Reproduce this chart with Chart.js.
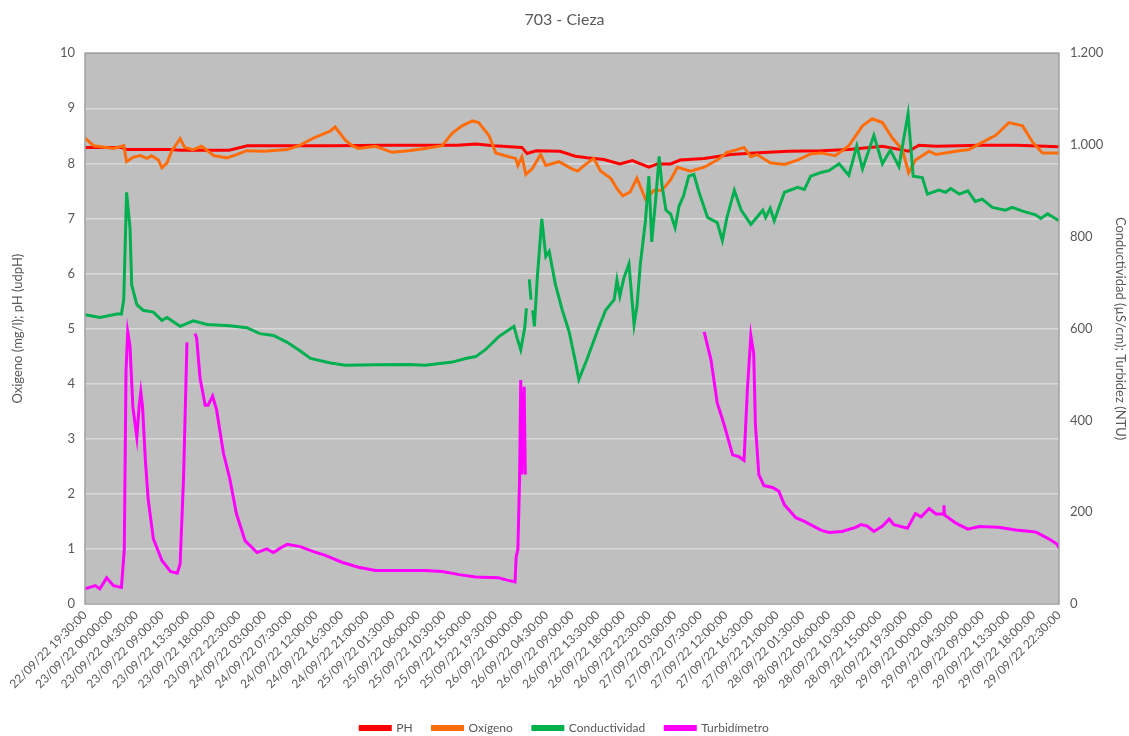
<!DOCTYPE html>
<html><head><meta charset="utf-8">
<script src="https://cdn.jsdelivr.net/npm/chart.js@4.4.0/dist/chart.umd.min.js"></script>
<style>html,body{margin:0;padding:0;background:#fff}</style>
</head><body>
<canvas id="c" width="1129" height="736"></canvas>
<script>
const chartTitle = '703 - Cieza';
const seriesNames = ['PH', 'Oxígeno', 'Conductividad', 'Turbidímetro'];
// hours since 22/09/22 19:30:00, every tick 4.5 h
const tickHours = [0,4.5,9,13.5,18,22.5,27,31.5,36,40.5,45,49.5,54,58.5,63,67.5,72,76.5,81,85.5,90,94.5,99,103.5,108,112.5,117,121.5,126,130.5,135,139.5,144,148.5,153,157.5,162,166.5,171];
const tickLabels = [
'22/09/22 19:30:00','23/09/22 00:00:00','23/09/22 04:30:00','23/09/22 09:00:00','23/09/22 13:30:00','23/09/22 18:00:00','23/09/22 22:30:00',
'24/09/22 03:00:00','24/09/22 07:30:00','24/09/22 12:00:00','24/09/22 16:30:00','24/09/22 21:00:00',
'25/09/22 01:30:00','25/09/22 06:00:00','25/09/22 10:30:00','25/09/22 15:00:00','25/09/22 19:30:00',
'26/09/22 00:00:00','26/09/22 04:30:00','26/09/22 09:00:00','26/09/22 13:30:00','26/09/22 18:00:00','26/09/22 22:30:00',
'27/09/22 03:00:00','27/09/22 07:30:00','27/09/22 12:00:00','27/09/22 16:30:00','27/09/22 21:00:00',
'28/09/22 01:30:00','28/09/22 06:00:00','28/09/22 10:30:00','28/09/22 15:00:00','28/09/22 19:30:00',
'29/09/22 00:00:00','29/09/22 04:30:00','29/09/22 09:00:00','29/09/22 13:30:00','29/09/22 18:00:00','29/09/22 22:30:00'];
const leftTicks = [0,1,2,3,4,5,6,7,8,9,10];
const rightTicks = [0,200,400,600,800,1000,1200];

// [hours, pH]
const phData = [[0,8.29],[6.3,8.29],[7.4,8.25],[14.8,8.25],[16.9,8.24],[25.3,8.24],[28.5,8.32],[43.3,8.32],[52.8,8.33],[65.4,8.33],[68.6,8.35],[71.8,8.32],[76.7,8.29],[77.6,8.18],[79.2,8.23],[83.4,8.22],[86.1,8.13],[88.1,8.10],[91.1,8.07],[93.9,7.99],[96.1,8.05],[99.0,7.93],[100.5,7.99],[102.8,7.99],[104.5,8.06],[108.7,8.09],[113.4,8.16],[117.5,8.19],[123.5,8.22],[129.2,8.23],[134.1,8.25],[140.0,8.31],[144.6,8.22],[146.4,8.33],[149.4,8.31],[157.3,8.33],[163.6,8.33],[171,8.30]];
// [hours, mg/l]
const oxigenoData = [[0,8.46],[1.5,8.32],[5.0,8.27],[6.8,8.32],[7.3,8.03],[8.4,8.11],[9.7,8.14],[10.9,8.09],[11.7,8.14],[12.9,8.06],[13.5,7.92],[14.4,8.01],[15.2,8.22],[16.7,8.45],[17.5,8.29],[19.0,8.25],[20.5,8.31],[22.6,8.14],[24.9,8.10],[26.6,8.16],[28.4,8.23],[31.4,8.22],[35.5,8.25],[37.8,8.33],[40.1,8.46],[43.1,8.59],[43.9,8.66],[45.7,8.42],[46.9,8.32],[48.0,8.27],[51.0,8.31],[53.9,8.20],[56.8,8.23],[59.7,8.27],[62.7,8.32],[64.5,8.55],[66.2,8.68],[68.0,8.77],[69.1,8.74],[70.9,8.51],[72.1,8.19],[74.4,8.12],[75.6,8.09],[76.0,7.96],[76.7,8.12],[77.4,7.80],[78.5,7.90],[80.0,8.16],[80.9,7.96],[83.2,8.03],[85.5,7.90],[86.5,7.86],[87.6,7.96],[89.3,8.09],[90.5,7.86],[92.3,7.73],[93.4,7.54],[94.4,7.41],[95.7,7.48],[96.9,7.73],[98.4,7.35],[99.9,7.51],[101.3,7.51],[102.8,7.70],[104.0,7.93],[106.3,7.86],[108.7,7.93],[111.0,8.06],[112.7,8.20],[114.5,8.25],[115.7,8.29],[116.9,8.12],[118.0,8.16],[120.3,8.01],[122.8,7.98],[125.1,8.06],[127.4,8.17],[129.2,8.19],[131.7,8.14],[134.1,8.32],[136.5,8.68],[138.2,8.81],[140.0,8.74],[141.8,8.45],[143.5,8.25],[144.6,7.83],[145.8,8.06],[148.2,8.22],[149.4,8.16],[152.9,8.22],[155.2,8.25],[157.5,8.38],[159.9,8.51],[162.2,8.74],[164.6,8.68],[166.4,8.38],[168.1,8.19],[171,8.19]];
// [hours, µS/cm]  (null = gap)
const conductividadData = [[0,630],[2.6,624],[5.6,632],[6.4,632],[6.8,663],[7.3,897],[7.9,819],[8.2,695],[9.1,652],[10.2,640],[12.0,636],[13.5,618],[14.4,624],[16.7,605],[19.0,617],[21.4,609],[25.4,606],[28.4,602],[30.7,589],[33.1,585],[35.5,570],[37.8,551],[39.6,535],[43.1,525],[45.7,520],[51.0,521],[56.8,522],[59.7,520],[64.5,527],[66.8,535],[68.6,539],[70.3,554],[72.6,582],[75.3,605],[75.9,578],[76.5,554],[77.2,601],[77.5,644],[77.7,null],[78.0,707],[78.3,663],[78.4,null],[78.6,640],[78.9,605],[79.4,710],[80.2,839],[80.9,757],[81.5,768],[82.6,695],[83.8,640],[85.0,593],[86.1,528],[86.7,489],[88.1,532],[89.9,593],[91.4,640],[92.9,663],[93.4,706],[93.9,671],[94.6,710],[95.5,741],[96.4,609],[96.9,648],[97.5,741],[98.4,835],[99.0,932],[99.5,789],[100.2,882],[100.8,975],[101.3,912],[102.0,858],[102.8,850],[103.6,820],[104.3,867],[105.1,890],[106.0,932],[106.9,936],[107.8,897],[109.3,842],[111.0,831],[111.9,792],[112.7,842],[114.0,901],[115.2,858],[116.9,827],[119.0,858],[119.5,842],[120.3,862],[121.0,835],[122.8,897],[125.1,908],[126.3,903],[127.4,932],[129.2,940],[130.6,944],[132.4,959],[134.1,934],[135.5,998],[136.5,948],[138.5,1021],[140.0,959],[141.4,989],[142.9,953],[144.5,1068],[145.4,932],[147.0,929],[147.9,893],[149.9,902],[151.1,897],[152.0,905],[153.5,893],[155.0,900],[156.3,877],[157.5,882],[159.3,864],[161.6,858],[162.8,864],[164.6,856],[166.9,848],[167.8,840],[169.0,850],[171,835]];
// [hours, NTU]  (null = gap)
const turbidimetroData = [[0,33],[1.8,40],[2.6,33],[3.8,57],[5.0,40],[6.4,36],[6.9,119],[7.2,508],[7.5,593],[7.9,562],[8.4,430],[9.1,363],[9.5,430],[9.8,462],[10.1,430],[10.6,313],[11.1,227],[12.0,142],[13.5,95],[15.0,71],[16.2,67],[16.7,87],[17.3,274],[17.9,570],[18.6,null],[19.3,589],[19.6,580],[20.2,492],[21.1,433],[21.6,433],[22.4,453],[23.1,423],[24.3,329],[25.4,274],[26.6,196],[28.1,138],[30.2,112],[31.9,120],[33.1,112],[34.3,122],[35.5,130],[37.8,125],[40.1,114],[42.2,106],[45.1,91],[48.0,80],[51.0,73],[53.9,73],[59.7,73],[62.7,71],[65.7,64],[68.6,59],[72.6,57],[74.1,52],[75.5,48],[75.7,103],[76.0,119],[76.3,274],[76.5,488],[76.7,282],[77.1,473],[77.3,282],[77.5,null],[108.7,593],[109.9,532],[111.0,438],[112.2,391],[113.7,325],[114.8,321],[115.7,313],[116.3,469],[116.9,585],[117.4,546],[117.7,391],[118.3,282],[119.2,258],[120.7,254],[121.8,246],[122.8,216],[124.8,188],[126.3,180],[129.2,161],[130.6,156],[132.9,158],[135.3,167],[136.2,173],[137.3,170],[138.5,158],[140.0,170],[141.2,185],[142.0,173],[144.4,165],[145.8,197],[146.8,190],[148.2,208],[149.4,196],[150.7,196],[150.8,215],[150.9,194],[152.9,176],[155.0,163],[157.0,169],[160.4,167],[163.4,161],[166.9,157],[169.2,142],[170.7,130],[171,122]];

const seriesColors = ['#FF0000', '#FF6D0A', '#00B050', '#FF00FF'];
const FONT = 'Lato, "Open Sans", sans-serif';
const GREY = '#595959';

function pts(arr) { return arr.map(p => ({x: p[0], y: p[1]})); }
function fmtThousands(v) {
  if (v >= 1000) return Math.floor(v / 1000) + '.' + String(v % 1000).padStart(3, '0');
  return String(v);
}

const plotBg = {
  id: 'plotBg',
  beforeDraw(chart) {
    const a = chart.chartArea, ctx = chart.ctx;
    ctx.save();
    ctx.fillStyle = '#BFBFBF';
    ctx.fillRect(a.left, a.top, a.right - a.left, a.bottom - a.top);
    ctx.restore();
  },
  afterDraw(chart) {
    const a = chart.chartArea, ctx = chart.ctx;
    ctx.save();
    ctx.strokeStyle = '#A0A0A0';
    ctx.lineWidth = 1.5;
    ctx.strokeRect(a.left, a.top, a.right - a.left, a.bottom - a.top);
    ctx.restore();
  }
};

const mk = (i, data, axis, order) => ({
  label: seriesNames[i], data: pts(data), yAxisID: axis,
  borderColor: seriesColors[i], backgroundColor: seriesColors[i],
  borderWidth: 3, pointRadius: 0, tension: 0, spanGaps: false, order: order
});

new Chart(document.getElementById('c'), {
  type: 'line',
  data: { datasets: [
    mk(0, phData, 'y', 3),
    mk(1, oxigenoData, 'y', 2),
    mk(2, conductividadData, 'y1', 1),
    mk(3, turbidimetroData, 'y1', 0)
  ]},
  plugins: [plotBg],
  options: {
    responsive: false, animation: false, devicePixelRatio: 1,
    layout: { padding: 0 },
    plugins: {
      title: { display: true, text: chartTitle, color: GREY, font: {family: FONT, size: 16, weight: 'normal'}, padding: {top: 10, bottom: 24} },
      legend: { position: 'bottom', maxHeight: 34,
        labels: { boxWidth: 30, boxHeight: 3, padding: 20, color: GREY, font: {family: FONT, size: 12},
                  sort: (a, b) => a.datasetIndex - b.datasetIndex } },
      tooltip: { enabled: false }
    },
    scales: {
      x: {
        type: 'linear', min: tickHours[0], max: tickHours[tickHours.length - 1],
        afterBuildTicks: s => { s.ticks = tickHours.map(v => ({value: v})); },
        afterFit: s => { s.height = 98; },
        ticks: { autoSkip: false, maxRotation: 45, minRotation: 45, padding: 4, color: GREY,
                 font: {family: FONT, size: 12}, callback: (v, i) => tickLabels[i] },
        grid: { display: false, drawTicks: false },
        border: { display: false }
      },
      y: {
        position: 'left', min: 0, max: 10,
        afterBuildTicks: s => { s.ticks = leftTicks.map(v => ({value: v})); },
        afterFit: s => { s.width = 85; },
        ticks: { padding: 10, color: GREY, font: {family: FONT, size: 13} },
        grid: { color: '#D9D9D9', lineWidth: 1.5, drawTicks: false },
        border: { display: false },
        title: { display: true, text: 'Oxigeno (mg/l); pH (udpH)', color: GREY, font: {family: FONT, size: 13}, padding: {top: 10, bottom: 0} }
      },
      y1: {
        position: 'right', min: 0, max: 1200,
        afterBuildTicks: s => { s.ticks = rightTicks.map(v => ({value: v})); },
        afterFit: s => { s.width = 70; },
        ticks: { padding: 11, color: GREY, font: {family: FONT, size: 13}, callback: v => fmtThousands(v) },
        grid: { display: false, drawTicks: false },
        border: { display: false },
        title: { display: true, text: 'Conductividad (µS/cm); Turbidez (NTU)', color: GREY, font: {family: FONT, size: 13}, padding: {top: 1, bottom: 0} }
      }
    }
  }
});
</script>
</body></html>
